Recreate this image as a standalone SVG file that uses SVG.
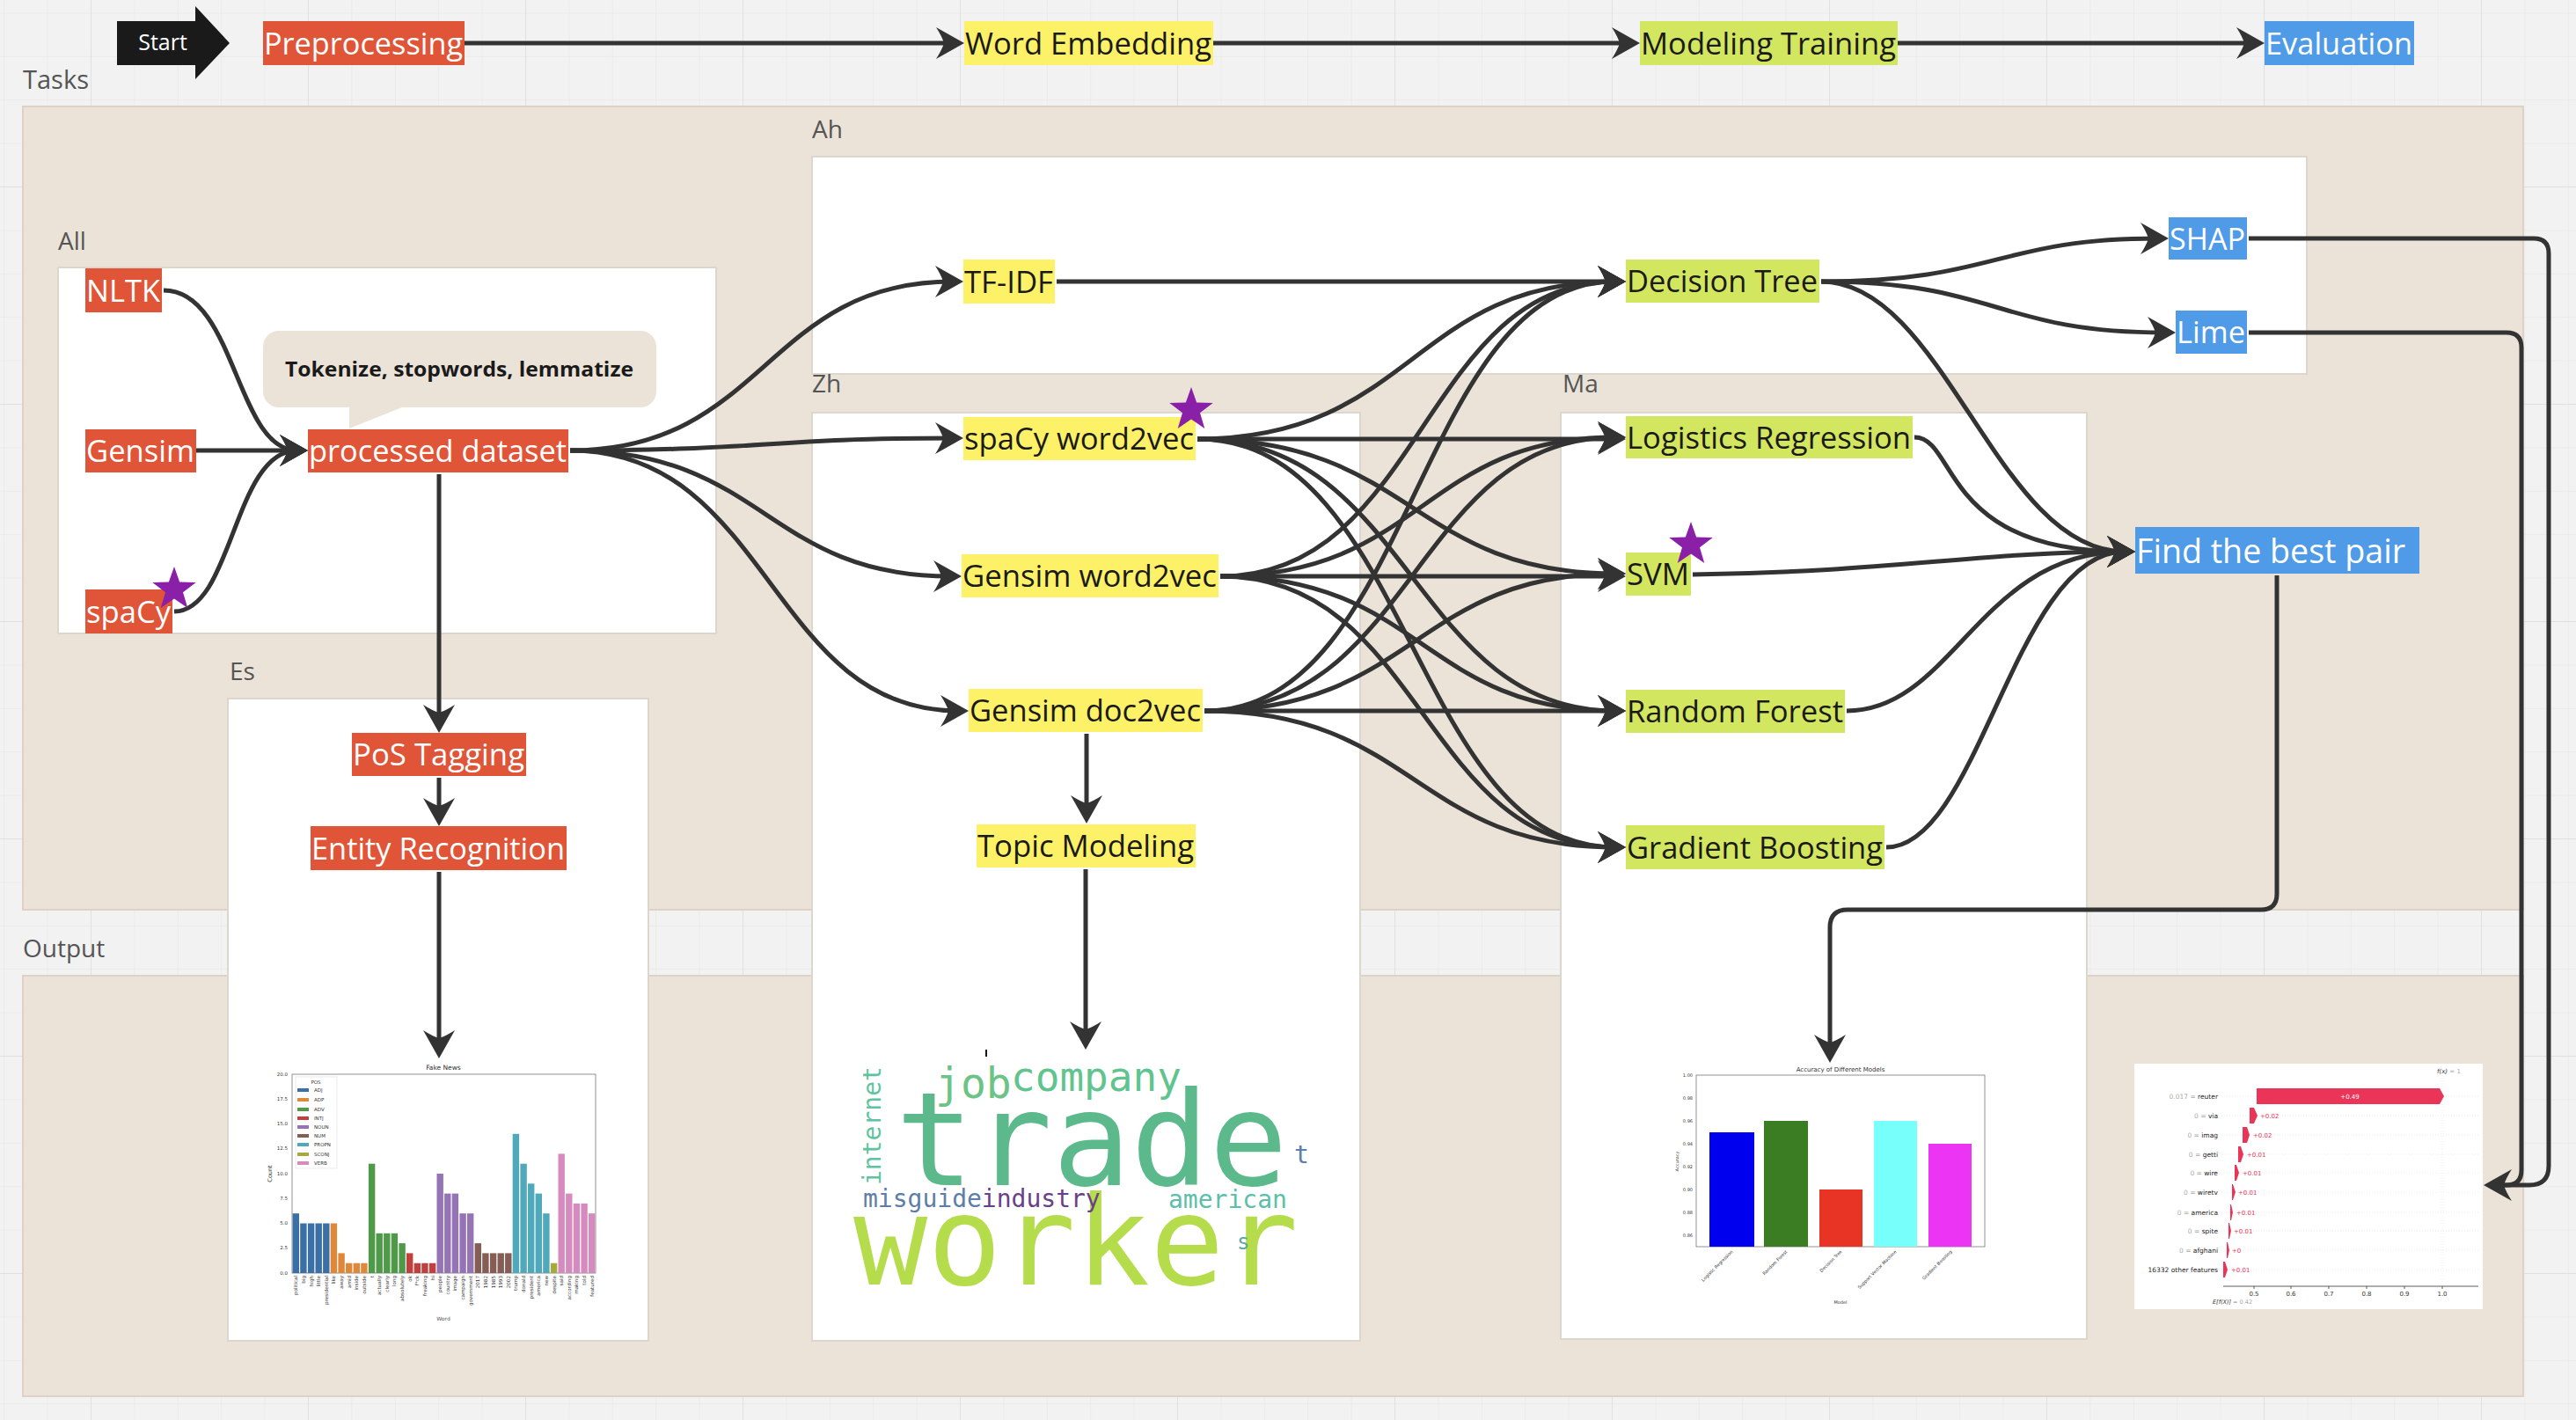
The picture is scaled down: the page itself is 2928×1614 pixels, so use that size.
<svg xmlns="http://www.w3.org/2000/svg" width="2928" height="1614" viewBox="0 0 2928 1614">
<defs>
<style>
.lbl{font-family:"Open Sans","Liberation Sans",sans-serif;font-size:28px;fill:#555}
.nt{font-family:"Open Sans","Liberation Sans",sans-serif;font-size:35px}
.wt{fill:#fff}.dk{fill:#1a1a1a}
.or{fill:#e05538}.ye{fill:#fdf267}.gr{fill:#d3e65f}.bl{fill:#4f9be7}
.pnl{fill:#ebe3d8;stroke:#dcd3c6;stroke-width:2}
.wp{fill:#fff;stroke:#ddd6cc;stroke-width:2}
.con{fill:none;stroke:#333;stroke-width:5}
.arr{marker-end:url(#ah)}
.st{fill:#8a1fa8}
.ch{font-family:"DejaVu Sans","Liberation Sans",sans-serif;fill:#333}
.wc{font-family:"DejaVu Sans Mono","Liberation Mono",monospace}
</style>
<pattern id="gmin" x="103" y="212" width="49.4" height="49.4" patternUnits="userSpaceOnUse"><path d="M0,0V49.4M0,0H49.4" stroke="#e9e9e9" stroke-width="1.5" fill="none"/></pattern>
<pattern id="gmaj" x="103" y="212" width="247" height="247" patternUnits="userSpaceOnUse"><path d="M0,0V247M0,0H247" stroke="#e0e0e0" stroke-width="2" fill="none"/></pattern>
<marker id="ah" markerUnits="userSpaceOnUse" viewBox="-24 -20 40 40" markerWidth="40" markerHeight="40" refX="0" refY="0" orient="auto">
<path d="M12,0L-20,-18Q-13,-7 -11,0Q-13,7 -20,18Z" fill="#333"/>
</marker>
<polygon id="star" points="0,-26 6.17,-8.49 24.73,-8.03 9.99,3.24 15.28,21.03 0,10.5 -15.28,21.03 -9.99,3.24 -24.73,-8.03 -6.17,-8.49"/>
</defs>

<g id="background">
<rect width="2928" height="1614" fill="#f2f2f2"/>
<rect width="2928" height="1614" fill="url(#gmin)"/>
<rect width="2928" height="1614" fill="url(#gmaj)"/>
</g>

<g id="panels">
<rect class="pnl" x="26" y="121" width="2842" height="913"/>
<rect class="pnl" x="26" y="1109" width="2842" height="478"/>
<rect class="wp" x="923" y="178" width="1699" height="247"/>
<rect class="wp" x="66" y="304" width="748" height="416"/>
<rect class="wp" x="923" y="469" width="623" height="1055"/>
<rect class="wp" x="259" y="794" width="478" height="730"/>
<rect class="wp" x="1774" y="469" width="598" height="1053"/>
<text class="lbl" x="26" y="101" style="font-size:29px">Tasks</text>
<text class="lbl" x="26" y="1088">Output</text>
<text class="lbl" x="923" y="157">Ah</text>
<text class="lbl" x="66" y="284">All</text>
<text class="lbl" x="923" y="446">Zh</text>
<text class="lbl" x="261" y="773">Es</text>
<text class="lbl" x="1776" y="446">Ma</text>
</g>

<g id="pos-chart" class="ch">
<rect x="332" y="1221" width="345" height="226" fill="#fff" stroke="#777" stroke-width="0.8"/>
<text x="504" y="1216" font-size="7.5" text-anchor="middle">Fake News</text>
<g font-size="5.5" text-anchor="end">
<text x="327" y="1223">20.0</text><text x="327" y="1251">17.5</text><text x="327" y="1279">15.0</text><text x="327" y="1307">12.5</text><text x="327" y="1336">10.0</text><text x="327" y="1364">7.5</text><text x="327" y="1392">5.0</text><text x="327" y="1420">2.5</text><text x="327" y="1449">0.0</text>
</g>
<text transform="translate(309,1334) rotate(-90)" font-size="6.5" text-anchor="middle">Count</text>
<text x="504" y="1501" font-size="6" text-anchor="middle" fill="#555">Word</text>
<g fill="#3a70a5"><rect x="332.6" y="1379.2" width="7.4" height="67.8"/><rect x="341.2" y="1390.5" width="7.4" height="56.5"/><rect x="349.9" y="1390.5" width="7.4" height="56.5"/><rect x="358.5" y="1390.5" width="7.4" height="56.5"/><rect x="367.1" y="1390.5" width="7.4" height="56.5"/></g>
<g fill="#e0883a"><rect x="375.7" y="1390.5" width="7.4" height="56.5"/><rect x="384.4" y="1424.4" width="7.4" height="22.6"/><rect x="393.0" y="1435.7" width="7.4" height="11.3"/><rect x="401.6" y="1435.7" width="7.4" height="11.3"/><rect x="410.2" y="1435.7" width="7.4" height="11.3"/></g>
<g fill="#4e9a48"><rect x="418.9" y="1322.7" width="7.4" height="124.3"/><rect x="427.5" y="1401.8" width="7.4" height="45.2"/><rect x="436.1" y="1401.8" width="7.4" height="45.2"/><rect x="444.7" y="1401.8" width="7.4" height="45.2"/><rect x="453.4" y="1413.1" width="7.4" height="33.9"/></g>
<g fill="#c0403f"><rect x="462.0" y="1424.4" width="7.4" height="22.6"/><rect x="470.6" y="1435.7" width="7.4" height="11.3"/><rect x="479.2" y="1435.7" width="7.4" height="11.3"/><rect x="487.9" y="1435.7" width="7.4" height="11.3"/></g>
<g fill="#9474b5"><rect x="496.5" y="1334" width="7.4" height="113"/><rect x="505.1" y="1356.6" width="7.4" height="90.4"/><rect x="513.7" y="1356.6" width="7.4" height="90.4"/><rect x="522.4" y="1379.2" width="7.4" height="67.8"/><rect x="531.0" y="1379.2" width="7.4" height="67.8"/></g>
<g fill="#845d55"><rect x="539.6" y="1413.1" width="7.4" height="33.9"/><rect x="548.2" y="1424.4" width="7.4" height="22.6"/><rect x="556.9" y="1424.4" width="7.4" height="22.6"/><rect x="565.5" y="1424.4" width="7.4" height="22.6"/><rect x="574.1" y="1424.4" width="7.4" height="22.6"/></g>
<g fill="#4fa9bb"><rect x="582.7" y="1288.8" width="7.4" height="158.2"/><rect x="591.4" y="1322.7" width="7.4" height="124.3"/><rect x="600.0" y="1345.3" width="7.4" height="101.7"/><rect x="608.6" y="1356.6" width="7.4" height="90.4"/><rect x="617.2" y="1379.2" width="7.4" height="67.8"/></g>
<rect x="625.9" y="1435.7" width="7.4" height="11.3" fill="#a8a93c"/>
<g fill="#d68bbf"><rect x="634.5" y="1311.4" width="7.4" height="135.6"/><rect x="643.1" y="1356.6" width="7.4" height="90.4"/><rect x="651.7" y="1367.9" width="7.4" height="79.1"/><rect x="660.4" y="1367.9" width="7.4" height="79.1"/><rect x="669.0" y="1379.2" width="7.4" height="67.8"/></g>
<g font-size="5.6" text-anchor="end">
<text transform="translate(338.3,1450) rotate(-90)">political</text>
<text transform="translate(346.9,1450) rotate(-90)">big</text>
<text transform="translate(355.6,1450) rotate(-90)">high</text>
<text transform="translate(364.2,1450) rotate(-90)">little</text>
<text transform="translate(372.8,1450) rotate(-90)">presidential</text>
<text transform="translate(381.4,1450) rotate(-90)">like</text>
<text transform="translate(390.1,1450) rotate(-90)">away</text>
<text transform="translate(398.7,1450) rotate(-90)">amid</text>
<text transform="translate(407.3,1450) rotate(-90)">inside</text>
<text transform="translate(415.9,1450) rotate(-90)">outside</text>
<text transform="translate(424.6,1450) rotate(-90)">t</text>
<text transform="translate(433.2,1450) rotate(-90)">actually</text>
<text transform="translate(441.8,1450) rotate(-90)">clearly</text>
<text transform="translate(450.4,1450) rotate(-90)">long</text>
<text transform="translate(459.1,1450) rotate(-90)">absolutely</text>
<text transform="translate(467.7,1450) rotate(-90)">ok</text>
<text transform="translate(476.3,1450) rotate(-90)">f*ck</text>
<text transform="translate(484.9,1450) rotate(-90)">freaking</text>
<text transform="translate(493.6,1450) rotate(-90)">hi</text>
<text transform="translate(502.2,1450) rotate(-90)">people</text>
<text transform="translate(510.8,1450) rotate(-90)">country</text>
<text transform="translate(519.4,1450) rotate(-90)">image</text>
<text transform="translate(528.1,1450) rotate(-90)">campaign</text>
<text transform="translate(536.7,1450) rotate(-90)">government</text>
<text transform="translate(545.3,1450) rotate(-90)">2017</text>
<text transform="translate(553.9,1450) rotate(-90)">1982</text>
<text transform="translate(562.6,1450) rotate(-90)">1985</text>
<text transform="translate(571.2,1450) rotate(-90)">1993</text>
<text transform="translate(579.8,1450) rotate(-90)">2002</text>
<text transform="translate(588.4,1450) rotate(-90)">trump</text>
<text transform="translate(597.1,1450) rotate(-90)">donald</text>
<text transform="translate(605.7,1450) rotate(-90)">president</text>
<text transform="translate(614.3,1450) rotate(-90)">america</text>
<text transform="translate(622.9,1450) rotate(-90)">new</text>
<text transform="translate(631.6,1450) rotate(-90)">despite</text>
<text transform="translate(640.2,1450) rotate(-90)">said</text>
<text transform="translate(648.8,1450) rotate(-90)">according</text>
<text transform="translate(657.4,1450) rotate(-90)">making</text>
<text transform="translate(666.1,1450) rotate(-90)">told</text>
<text transform="translate(674.7,1450) rotate(-90)">featured</text>
</g>
<rect x="336" y="1224" width="47" height="104" fill="#fff" stroke="#ddd" stroke-width="0.6"/>
<text x="359" y="1232" font-size="5.5" text-anchor="middle">POS</text>
<g font-size="5.5">
<rect x="338" y="1237" width="13" height="4" fill="#3a70a5"/><text x="357" y="1241">ADJ</text>
<rect x="338" y="1248" width="13" height="4" fill="#e0883a"/><text x="357" y="1252">ADP</text>
<rect x="338" y="1259" width="13" height="4" fill="#4e9a48"/><text x="357" y="1263">ADV</text>
<rect x="338" y="1269" width="13" height="4" fill="#c0403f"/><text x="357" y="1273">INTJ</text>
<rect x="338" y="1279" width="13" height="4" fill="#9474b5"/><text x="357" y="1283">NOUN</text>
<rect x="338" y="1289" width="13" height="4" fill="#845d55"/><text x="357" y="1293">NUM</text>
<rect x="338" y="1299" width="13" height="4" fill="#4fa9bb"/><text x="357" y="1303">PROPN</text>
<rect x="338" y="1310" width="13" height="4" fill="#a8a93c"/><text x="357" y="1314">SCONJ</text>
<rect x="338" y="1320" width="13" height="4" fill="#d68bbf"/><text x="357" y="1324">VERB</text>
</g>
</g>

<g id="word-cloud" class="wc">
<rect x="1120" y="1193" width="2" height="8" fill="#111"/>
<text x="1018" y="1347" font-size="148" fill="#5bb98b">trade</text>
<text x="970" y="1460" font-size="140" fill="#b5dc4b">worker</text>
<text x="1063" y="1248" font-size="48" fill="#6cc386">job</text>
<text x="1149" y="1240" font-size="46" fill="#5fc48e">company</text>
<text transform="translate(1001,1347) rotate(-90)" font-size="28" fill="#5ec4a0">internet</text>
<text x="981" y="1372" font-size="28"><tspan fill="#5d7ea8">misguide</tspan><tspan fill="#6a3f8a">industry</tspan></text>
<text x="1328" y="1373" font-size="28" fill="#5bbfa9">american</text>
<text x="1471" y="1322" font-size="28" fill="#5a7fa8">t</text>
<text x="1406" y="1420" font-size="24" fill="#5fa8a8">s</text>
</g>

<g id="accuracy-chart" class="ch">
<rect x="1928" y="1222" width="328" height="195" fill="#fff" stroke="#777" stroke-width="0.8"/>
<text x="2092" y="1218" font-size="7" text-anchor="middle">Accuracy of Different Models</text>
<rect x="1943" y="1287" width="51" height="130" fill="#0000ee"/>
<rect x="2005" y="1274" width="50" height="143" fill="#3a7d22"/>
<rect x="2068" y="1352" width="49" height="65" fill="#e83424"/>
<rect x="2130" y="1274" width="49" height="143" fill="#77fffb"/>
<rect x="2192" y="1300" width="49" height="117" fill="#eb34f4"/>
<g font-size="5" text-anchor="end">
<text x="1924" y="1224">1.00</text><text x="1924" y="1250">0.98</text><text x="1924" y="1276">0.96</text><text x="1924" y="1302">0.94</text><text x="1924" y="1328">0.92</text><text x="1924" y="1354">0.90</text><text x="1924" y="1380">0.88</text><text x="1924" y="1406">0.86</text>
<text transform="translate(1970,1423) rotate(-45)">Logistic Regression</text>
<text transform="translate(2032,1423) rotate(-45)">Random Forest</text>
<text transform="translate(2094,1423) rotate(-45)">Decision Tree</text>
<text transform="translate(2156,1423) rotate(-45)">Support Vector Machine</text>
<text transform="translate(2219,1423) rotate(-45)">Gradient Boosting</text>
</g>
<text transform="translate(1908,1320) rotate(-90)" font-size="5" text-anchor="middle">Accuracy</text>
<text x="2092" y="1482" font-size="5" text-anchor="middle">Model</text>
</g>

<g id="shap-plot" class="ch">
<rect x="2426" y="1209" width="396" height="279" fill="#fff"/>
<g stroke="#e4e4e4" stroke-width="0.8" stroke-dasharray="1 2">
<path d="M2525,1246H2817M2525,1268H2817M2525,1290H2817M2525,1312H2817M2525,1333H2817M2525,1355H2817M2525,1378H2817M2525,1399H2817M2525,1421H2817M2525,1443H2817M2776,1222V1462"/>
</g>
<text x="2770" y="1220" font-size="7"><tspan font-style="italic">f(x)</tspan><tspan fill="#aaa"> = 1</tspan></text>
<g font-size="7.5" text-anchor="end" fill="#222">
<text x="2521" y="1249"><tspan fill="#aaa">0.017 = </tspan>reuter</text>
<text x="2521" y="1271"><tspan fill="#aaa">0 = </tspan>via</text>
<text x="2521" y="1293"><tspan fill="#aaa">0 = </tspan>imag</text>
<text x="2521" y="1315"><tspan fill="#aaa">0 = </tspan>getti</text>
<text x="2521" y="1336"><tspan fill="#aaa">0 = </tspan>wire</text>
<text x="2521" y="1358"><tspan fill="#aaa">0 = </tspan>wiretv</text>
<text x="2521" y="1381"><tspan fill="#aaa">0 = </tspan>america</text>
<text x="2521" y="1402"><tspan fill="#aaa">0 = </tspan>spite</text>
<text x="2521" y="1424"><tspan fill="#aaa">0 = </tspan>afghani</text>
<text x="2521" y="1446">16332 other features</text>
</g>
<g fill="#ea3458">
<polygon points="2565,1237 2773,1237 2778,1246 2773,1255 2565,1255"/>
<polygon points="2557,1259 2562,1259 2566,1268 2562,1277 2557,1277"/>
<polygon points="2549,1281 2554,1281 2557,1290 2554,1299 2549,1299"/>
<polygon points="2544,1303 2547,1303 2550,1312 2547,1321 2544,1321"/>
<polygon points="2540,1324 2542,1324 2545,1333 2542,1342 2540,1342"/>
<polygon points="2537,1346 2538,1346 2541,1355 2538,1364 2537,1364"/>
<polygon points="2535,1369 2536,1369 2538,1378 2536,1387 2535,1387"/>
<polygon points="2533,1390 2534,1390 2536,1399 2534,1408 2533,1408"/>
<polygon points="2531,1412 2532,1412 2534,1421 2532,1430 2531,1430"/>
<polygon points="2527,1434 2529,1434 2532,1443 2529,1452 2527,1452"/>
</g>
<text x="2671" y="1249" font-size="7" fill="#fff" text-anchor="middle">+0.49</text>
<g font-size="7" fill="#ea3458">
<text x="2569" y="1270.5">+0.02</text>
<text x="2561" y="1292.5">+0.02</text>
<text x="2554" y="1314.5">+0.01</text>
<text x="2549" y="1335.5">+0.01</text>
<text x="2544" y="1357.5">+0.01</text>
<text x="2542" y="1380.5">+0.01</text>
<text x="2539" y="1401.5">+0.01</text>
<text x="2537" y="1423.5">+0</text>
<text x="2536" y="1445.5">+0.01</text>
</g>
<path d="M2527,1462H2817M2562,1462v3M2604,1462v3M2647,1462v3M2690,1462v3M2733,1462v3M2776,1462v3" stroke="#333" stroke-width="0.8" fill="none"/>
<g font-size="7" text-anchor="middle">
<text x="2562" y="1473">0.5</text><text x="2604" y="1473">0.6</text><text x="2647" y="1473">0.7</text><text x="2690" y="1473">0.8</text><text x="2733" y="1473">0.9</text><text x="2776" y="1473">1.0</text>
</g>
<text x="2515" y="1482" font-size="6.5"><tspan font-style="italic">E[f(X)]</tspan><tspan fill="#aaa"> = 0.42</tspan></text>
</g>

<g id="connectors" class="con">
<path class="arr" d="M528,49H1084"/>
<path class="arr" d="M1379,49H1852"/>
<path class="arr" d="M2157,49H2562"/>
<path class="arr" d="M186,330C268,330 268,512 338,512"/>
<path class="arr" d="M223,512H338"/>
<path class="arr" d="M198,695C265,695 265,512 338,512"/>
<path class="arr" d="M648,512C870,512 870,320 1083,320"/>
<path class="arr" d="M648,512C870,512 870,498 1083,498"/>
<path class="arr" d="M648,512C870,512 870,655 1081,655"/>
<path class="arr" d="M648,512C875,512 875,808 1089,808"/>
<path class="arr" d="M499,539V821"/>
<path class="arr" d="M499,884V927"/>
<path class="arr" d="M499,991V1191"/>
<path class="arr" d="M1235,834V924"/>
<path class="arr" d="M1234,988V1181"/>
<path class="arr" d="M1201,320H1836"/>
<path class="arr" d="M1361,499C1605,499 1605,320 1836,320"/>
<path class="arr" d="M1361,499H1836"/>
<path class="arr" d="M1361,499C1605,499 1605,652 1836,652"/>
<path class="arr" d="M1361,499C1605,499 1605,808 1836,808"/>
<path class="arr" d="M1361,499C1605,499 1605,963 1836,963"/>
<path class="arr" d="M1387,655C1617,655 1617,320 1836,320"/>
<path class="arr" d="M1387,655C1617,655 1617,497 1836,497"/>
<path class="arr" d="M1387,655H1836"/>
<path class="arr" d="M1387,655C1617,655 1617,808 1836,808"/>
<path class="arr" d="M1387,655C1617,655 1617,963 1836,963"/>
<path class="arr" d="M1369,808C1608,808 1608,320 1836,320"/>
<path class="arr" d="M1369,808C1608,808 1608,497 1836,497"/>
<path class="arr" d="M1369,808C1608,808 1608,652 1836,652"/>
<path class="arr" d="M1369,808H1836"/>
<path class="arr" d="M1369,808C1608,808 1608,963 1836,963"/>
<path class="arr" d="M2070,320C2270,320 2270,271 2453,271"/>
<path class="arr" d="M2070,320C2270,320 2270,378 2461,378"/>
<path class="arr" d="M2070,320C2210,320 2270,627 2415,627"/>
<path class="arr" d="M2176,497C2225,497 2205,627 2415,627"/>
<path class="arr" d="M1924,653C2150,650 2250,627 2415,627"/>
<path class="arr" d="M2099,808C2220,808 2250,627 2415,627"/>
<path class="arr" d="M2144,963C2250,963 2290,627 2415,627"/>
<path class="arr" d="M2556,271H2880Q2897,271 2897,288V1325Q2897,1347 2875,1347H2835"/>
<path d="M2556,378H2849Q2866,378 2866,395V1330Q2866,1347 2849,1347H2840"/>
<path class="arr" d="M2588,654V1016Q2588,1034 2570,1034H2100Q2080,1034 2080,1054V1196"/>
</g>

<g id="node-start"><polygon points="133,24 222,24 222,7 261,49 222,90 222,74 133,74" fill="#1a1a1a"/><text class="nt wt" x="185" y="57" text-anchor="middle" style="font-size:25px">Start</text></g>
<g id="node-preprocessing"><rect class="or" x="299" y="24" width="229" height="50"/><text class="nt wt" x="300" y="62" textLength="226" lengthAdjust="spacingAndGlyphs">Preprocessing</text></g>
<g id="node-word-embedding"><rect class="ye" x="1096" y="24" width="283" height="50"/><text class="nt dk" x="1097" y="62" textLength="280" lengthAdjust="spacingAndGlyphs">Word Embedding</text></g>
<g id="node-modeling-training"><rect class="gr" x="1864" y="24" width="293" height="50"/><text class="nt dk" x="1865" y="62" textLength="290" lengthAdjust="spacingAndGlyphs">Modeling Training</text></g>
<g id="node-evaluation"><rect class="bl" x="2574" y="24" width="170" height="50"/><text class="nt wt" x="2575" y="62" textLength="167" lengthAdjust="spacingAndGlyphs">Evaluation</text></g>

<g id="node-tooltip"><rect x="299" y="376" width="447" height="87" rx="18" fill="#ebe3d8"/><polygon points="397,461 397,487 462,461" fill="#ebe3d8"/><text x="522" y="428" text-anchor="middle" textLength="396" lengthAdjust="spacingAndGlyphs" style="font-family:'Open Sans','Liberation Sans',sans-serif;font-weight:bold;font-size:23px;fill:#1a1a1a">Tokenize, stopwords, lemmatize</text></g>
<g id="node-nltk"><rect class="or" x="97" y="305" width="87" height="50"/><text class="nt wt" x="98" y="343" textLength="84" lengthAdjust="spacingAndGlyphs">NLTK</text></g>
<g id="node-gensim"><rect class="or" x="97" y="488" width="126" height="49"/><text class="nt wt" x="98" y="525" textLength="123" lengthAdjust="spacingAndGlyphs">Gensim</text></g>
<g id="node-spacy"><rect class="or" x="97" y="670" width="99" height="50"/><text class="nt wt" x="98" y="708" textLength="96" lengthAdjust="spacingAndGlyphs">spaCy</text><use href="#star" x="198" y="670" class="st"/></g>
<g id="node-processed-dataset"><rect class="or" x="350" y="488" width="296" height="49"/><text class="nt wt" x="351" y="525" textLength="293" lengthAdjust="spacingAndGlyphs">processed dataset</text></g>
<g id="node-pos-tagging"><rect class="or" x="400" y="833" width="198" height="49"/><text class="nt wt" x="401" y="870" textLength="195" lengthAdjust="spacingAndGlyphs">PoS Tagging</text></g>
<g id="node-entity-recognition"><rect class="or" x="353" y="939" width="291" height="50"/><text class="nt wt" x="354" y="977" textLength="288" lengthAdjust="spacingAndGlyphs">Entity Recognition</text></g>

<g id="node-tfidf"><rect class="ye" x="1095" y="295" width="104" height="50"/><text class="nt dk" x="1096" y="333" textLength="101" lengthAdjust="spacingAndGlyphs">TF-IDF</text></g>
<g id="node-spacy-word2vec"><rect class="ye" x="1095" y="474" width="264" height="49"/><text class="nt dk" x="1096" y="511" textLength="261" lengthAdjust="spacingAndGlyphs">spaCy word2vec</text><use href="#star" x="1354" y="466" class="st"/></g>
<g id="node-gensim-word2vec"><rect class="ye" x="1093" y="630" width="292" height="49"/><text class="nt dk" x="1094" y="667" textLength="289" lengthAdjust="spacingAndGlyphs">Gensim word2vec</text></g>
<g id="node-gensim-doc2vec"><rect class="ye" x="1101" y="783" width="266" height="49"/><text class="nt dk" x="1102" y="820" textLength="263" lengthAdjust="spacingAndGlyphs">Gensim doc2vec</text></g>
<g id="node-topic-modeling"><rect class="ye" x="1110" y="937" width="249" height="49"/><text class="nt dk" x="1111" y="974" textLength="246" lengthAdjust="spacingAndGlyphs">Topic Modeling</text></g>

<g id="node-decision-tree"><rect class="gr" x="1848" y="295" width="220" height="49"/><text class="nt dk" x="1849" y="332" textLength="217" lengthAdjust="spacingAndGlyphs">Decision Tree</text></g>
<g id="node-logistics-regression"><rect class="gr" x="1848" y="473" width="326" height="48"/><text class="nt dk" x="1849" y="510" textLength="323" lengthAdjust="spacingAndGlyphs">Logistics Regression</text></g>
<g id="node-svm"><rect class="gr" x="1848" y="628" width="74" height="49"/><text class="nt dk" x="1849" y="665" textLength="71" lengthAdjust="spacingAndGlyphs">SVM</text><use href="#star" x="1922" y="619" class="st"/></g>
<g id="node-random-forest"><rect class="gr" x="1848" y="784" width="249" height="49"/><text class="nt dk" x="1849" y="821" textLength="246" lengthAdjust="spacingAndGlyphs">Random Forest</text></g>
<g id="node-gradient-boosting"><rect class="gr" x="1848" y="938" width="294" height="50"/><text class="nt dk" x="1849" y="976" textLength="291" lengthAdjust="spacingAndGlyphs">Gradient Boosting</text></g>

<g id="node-shap"><rect class="bl" x="2465" y="247" width="89" height="48"/><text class="nt wt" x="2466" y="284" textLength="86" lengthAdjust="spacingAndGlyphs">SHAP</text></g>
<g id="node-lime"><rect class="bl" x="2473" y="353" width="81" height="49"/><text class="nt wt" x="2474" y="390" textLength="78" lengthAdjust="spacingAndGlyphs">Lime</text></g>
<g id="node-find-best-pair"><rect class="bl" x="2427" y="599" width="323" height="53"/><text class="nt wt" x="2428" y="640" textLength="306" lengthAdjust="spacingAndGlyphs" style="font-size:37.5px">Find the best pair</text></g>
</svg>
